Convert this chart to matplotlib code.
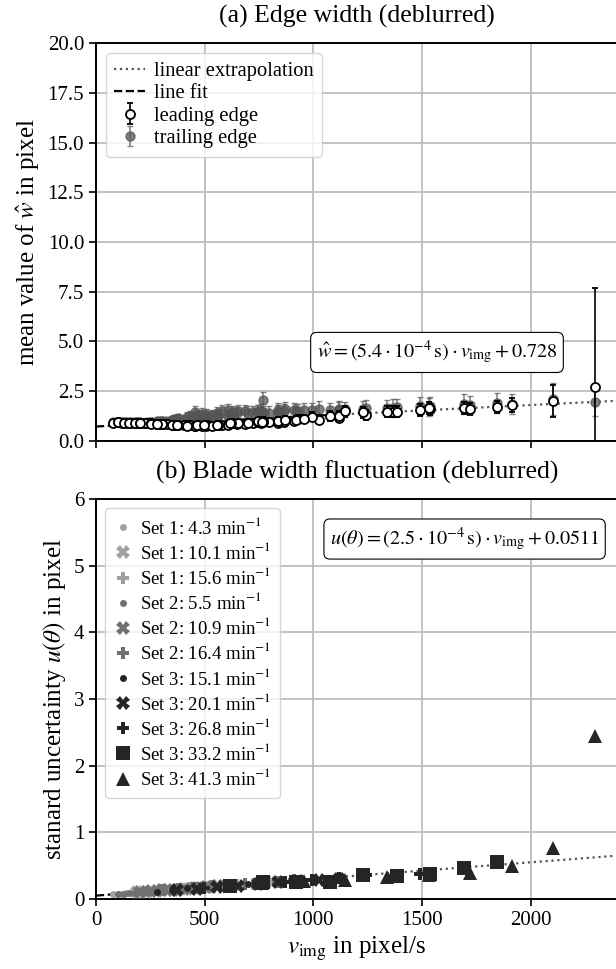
import numpy as np
import matplotlib.pyplot as plt

plt.rcParams['font.family'] = ['Liberation Serif', 'DejaVu Serif']
plt.rcParams['mathtext.fontset'] = 'stix'
plt.rcParams['font.size'] = 15

# -- velocities v_img (pixel/s) for each set / rotation speed
v_s1_43 = [79.6, 99.5, 119.5, 139.4, 159.3, 179.3, 199.2, 219.1, 239.1]
v_s1_101 = [187.0, 233.8, 280.6, 327.4, 374.2, 421.1, 467.9, 514.7, 561.6]
v_s1_156 = [288.8, 361.1, 433.4, 505.8, 578.0, 650.4, 722.7, 795.0, 867.4]
v_s2_55 = [101.8, 127.3, 152.8, 178.3, 203.8, 229.3, 254.8, 280.3, 305.8]
v_s2_109 = [201.8, 252.3, 302.8, 353.4, 403.8, 454.4, 505.0, 555.5, 606.0]
v_s2_164 = [303.6, 379.7, 455.6, 531.7, 607.6, 683.7, 759.8, 835.7, 911.8]
v_s3_151 = [279.5, 349.6, 419.5, 489.5, 559.5, 629.5, 699.6, 769.5, 839.6]
v_s3_201 = [372.1, 465.3, 558.4, 651.6, 744.7, 838.0, 931.2, 1024.3, 1117.6]
v_s3_268 = [496.1, 620.4, 744.5, 868.9, 992.9, 1117.3, 1241.6, 1365.7, 1490.1]
v_s3_332 = [614.5, 768.6, 922.3, 1076.3, 1230.1, 1384.1, 1538.2, 1691.9, 1845.9]
v_s3_413 = [764.5, 956.1, 1147.3, 1339.0, 1530.2, 1721.8, 1913.4, 2104.6, 2296.3]

# -- standard uncertainty u(theta) in pixel
u_s1_43 = [0.07, 0.08, 0.08, 0.09, 0.09, 0.10, 0.10, 0.11, 0.11]
u_s1_101 = [0.10, 0.11, 0.12, 0.13, 0.14, 0.15, 0.17, 0.18, 0.19]
u_s1_156 = [0.12, 0.14, 0.16, 0.18, 0.19, 0.21, 0.23, 0.25, 0.26]
u_s2_55 = [0.07, 0.08, 0.09, 0.09, 0.10, 0.11, 0.11, 0.12, 0.13]
u_s2_109 = [0.10, 0.12, 0.13, 0.14, 0.15, 0.16, 0.18, 0.19, 0.20]
u_s2_164 = [0.13, 0.15, 0.17, 0.19, 0.21, 0.22, 0.24, 0.26, 0.28]
u_s3_151 = [0.10, 0.13, 0.16, 0.18, 0.19, 0.21, 0.23, 0.24, 0.26]
u_s3_201 = [0.13, 0.15, 0.18, 0.20, 0.22, 0.25, 0.27, 0.29, 0.30]
u_s3_268 = [0.17, 0.20, 0.23, 0.26, 0.29, 0.31, 0.36, 0.35, 0.37]
u_s3_332 = [0.20, 0.25, 0.25, 0.26, 0.36, 0.35, 0.38, 0.46, 0.56]
u_s3_413 = [0.24, 0.27, 0.29, 0.33, 0.36, 0.39, 0.49, 0.76, 2.45]

labels_b = ['Set 1: 4.3 min$^{-1}$', 'Set 1: 10.1 min$^{-1}$', 'Set 1: 15.6 min$^{-1}$',
            'Set 2: 5.5 min$^{-1}$', 'Set 2: 10.9 min$^{-1}$', 'Set 2: 16.4 min$^{-1}$',
            'Set 3: 15.1 min$^{-1}$', 'Set 3: 20.1 min$^{-1}$', 'Set 3: 26.8 min$^{-1}$',
            'Set 3: 33.2 min$^{-1}$', 'Set 3: 41.3 min$^{-1}$']

# -- edge width w_hat (same measurements, same order as the v lists above)
lead_w = [0.92, 0.93, 0.91, 0.92, 0.90, 0.91, 0.90, 0.89, 0.90,
          0.90, 0.88, 0.85, 0.83, 0.80, 0.78, 0.80, 0.79, 0.82,
          0.85, 0.80, 0.78, 0.75, 0.80, 0.87, 0.90, 0.93, 0.97,
          0.93, 0.92, 0.91, 0.90, 0.91, 0.89, 0.88, 0.87, 0.86,
          0.89, 0.87, 0.84, 0.82, 0.79, 0.77, 0.78, 0.80, 0.83,
          0.84, 0.79, 0.76, 0.76, 0.82, 0.86, 0.89, 0.92, 1.00,
          0.86, 0.80, 0.77, 0.76, 0.80, 0.88, 0.92, 0.95, 0.98,
          0.82, 0.78, 0.80, 0.88, 0.95, 1.00, 1.10, 1.08, 1.17,
          0.80, 0.90, 0.98, 1.05, 1.22, 1.25, 1.31, 1.47, 1.56,
          0.88, 1.00, 1.05, 1.25, 1.44, 1.47, 1.59, 1.67, 1.73,
          0.95, 1.10, 1.49, 1.47, 1.64, 1.61, 1.81, 2.01, 2.70]
lead_err = [0.08, 0.08, 0.08, 0.08, 0.08, 0.08, 0.08, 0.08, 0.08,
            0.10, 0.10, 0.12, 0.12, 0.12, 0.14, 0.14, 0.15, 0.15,
            0.12, 0.12, 0.14, 0.15, 0.15, 0.16, 0.16, 0.18, 0.18,
            0.08, 0.08, 0.08, 0.08, 0.08, 0.08, 0.10, 0.10, 0.10,
            0.10, 0.10, 0.12, 0.12, 0.12, 0.14, 0.14, 0.15, 0.15,
            0.12, 0.12, 0.14, 0.15, 0.15, 0.16, 0.16, 0.18, 0.18,
            0.12, 0.14, 0.15, 0.16, 0.16, 0.18, 0.18, 0.20, 0.20,
            0.14, 0.15, 0.16, 0.18, 0.20, 0.20, 0.22, 0.22, 0.24,
            0.15, 0.18, 0.20, 0.22, 0.24, 0.25, 0.26, 0.28, 0.28,
            0.18, 0.20, 0.22, 0.24, 0.26, 0.28, 0.28, 0.30, 0.30,
            0.20, 0.22, 0.26, 0.28, 0.30, 0.30, 0.35, 0.81, 5.00]
trail_w = [0.95, 0.94, 0.94, 0.93, 0.93, 0.92, 0.93, 0.92, 0.92,
           0.94, 0.93, 0.95, 1.00, 1.05, 1.10, 1.15, 1.20, 1.25,
           1.00, 1.10, 1.25, 1.35, 1.50, 1.40, 1.45, 1.40, 1.50,
           0.95, 0.94, 0.93, 0.93, 0.92, 0.92, 0.93, 0.95, 0.97,
           0.94, 0.95, 0.98, 1.02, 1.08, 1.12, 1.18, 1.22, 1.28,
           1.02, 1.15, 1.44, 1.30, 1.56, 1.49, 1.50, 1.45, 1.55,
           0.98, 1.05, 1.20, 1.35, 1.30, 1.45, 1.40, 2.06, 1.45,
           1.10, 1.30, 1.40, 1.50, 1.45, 1.55, 1.50, 1.60, 1.55,
           1.20, 1.35, 1.50, 1.60, 1.55, 1.62, 1.65, 1.65, 1.75,
           1.30, 1.45, 1.50, 1.55, 1.60, 1.70, 1.75, 1.85, 1.90,
           1.35, 1.55, 1.60, 1.65, 1.70, 1.80, 1.85, 2.10, 1.98]
trail_err = [0.08, 0.08, 0.08, 0.08, 0.08, 0.10, 0.10, 0.10, 0.10,
             0.10, 0.12, 0.15, 0.18, 0.20, 0.22, 0.25, 0.25, 0.28,
             0.15, 0.20, 0.25, 0.28, 0.30, 0.30, 0.32, 0.35, 0.35,
             0.08, 0.08, 0.08, 0.10, 0.10, 0.10, 0.12, 0.12, 0.15,
             0.12, 0.14, 0.18, 0.20, 0.22, 0.24, 0.26, 0.28, 0.28,
             0.18, 0.22, 0.30, 0.28, 0.30, 0.32, 0.35, 0.35, 0.35,
             0.15, 0.20, 0.25, 0.30, 0.30, 0.32, 0.35, 0.40, 0.35,
             0.20, 0.25, 0.30, 0.32, 0.35, 0.35, 0.38, 0.40, 0.40,
             0.22, 0.28, 0.32, 0.35, 0.38, 0.40, 0.42, 0.45, 0.45,
             0.25, 0.30, 0.35, 0.38, 0.40, 0.42, 0.45, 0.50, 0.50,
             0.28, 0.35, 0.38, 0.40, 0.45, 0.45, 0.50, 0.80, 0.70]

# fit parameters
slope_a, icpt_a = 5.4e-4, 0.728
slope_b, icpt_b = 2.5e-4, 0.0511
fit_end = 1150
x_max = 2400

sets_v = [v_s1_43, v_s1_101, v_s1_156, v_s2_55, v_s2_109, v_s2_164,
          v_s3_151, v_s3_201, v_s3_268, v_s3_332, v_s3_413]
sets_u = [u_s1_43, u_s1_101, u_s1_156, u_s2_55, u_s2_109, u_s2_164,
          u_s3_151, u_s3_201, u_s3_268, u_s3_332, u_s3_413]
marks = ['.', 'X', 'P', '.', 'X', 'P', '.', 'X', 'P', 's', '^']
sizes = [10, 10, 9, 10, 10, 9, 10, 10, 9, 10, 10]
cols = ['#a0a0a0'] * 3 + ['#707070'] * 3 + ['#252525'] * 5

edge_v = np.concatenate([v_s1_43, v_s1_101, v_s1_156, v_s2_55, v_s2_109, v_s2_164,
                         v_s3_151, v_s3_201, v_s3_268, v_s3_332, v_s3_413])

fig = plt.figure(figsize=(6.16, 9.69), dpi=100)
ax1 = fig.add_axes([0.1558, 0.5449, 0.8468, 0.4107])
ax2 = fig.add_axes([0.1558, 0.0722, 0.8468, 0.4128])

grid_kw = dict(color='#bdbdbd', linewidth=1.3)

# (a) Edge width
xa = np.array([fit_end, x_max])
xf = np.array([0, fit_end])
ax1.plot(xa, slope_a * xa + icpt_a, ':', color='#555555', lw=1.6, label='linear extrapolation', zorder=2)
ax1.plot(xf, slope_a * xf + icpt_a, '--', color='black', lw=1.6, label='line fit', zorder=2)
ax1.errorbar(edge_v, lead_w, yerr=lead_err, fmt='o', mfc='white', mec='black', mew=1.3,
             ms=6.5, ecolor='black', elinewidth=1.2, capsize=2.5, label='leading edge', zorder=4)
ax1.errorbar(edge_v, trail_w, yerr=trail_err, fmt='o', color='#555555', ms=6.5, alpha=0.75,
             ecolor='#606060', elinewidth=1.2, capsize=2.5, label='trailing edge', zorder=3)
ax1.set_xlim(0, x_max)
ax1.set_ylim(0, 20)
ax1.set_yticks(np.arange(0, 20.1, 2.5))
ax1.set_yticklabels(['%.1f' % t for t in np.arange(0, 20.1, 2.5)])
ax1.set_xticks([0, 500, 1000, 1500, 2000])
ax1.tick_params(labelbottom=False)
ax1.grid(True, **grid_kw)
ax1.set_axisbelow(True)
ax1.set_ylabel(r'mean value of $\hat{w}$ in pixel', fontsize=18)
ax1.set_title('(a) Edge width (deblurred)', fontsize=18.5, pad=15)
ax1.legend(loc='upper left', fontsize=14.8, handlelength=1.5, borderpad=0.4, labelspacing=0.15,
           handletextpad=0.4)
ax1.text(1569, 4.45, r'$\hat{w} = (5.4\cdot 10^{-4}\,\mathrm{s})\cdot v_\mathrm{img} + 0.728$',
         ha='center', va='center', fontsize=14.5,
         bbox=dict(boxstyle='round,pad=0.3', fc='white', ec='black', lw=0.8))

# (b) Blade width fluctuation
ax2.plot(xa, slope_b * xa + icpt_b, ':', color='#555555', lw=1.6, zorder=2)
ax2.plot(xf, slope_b * xf + icpt_b, '--', color='black', lw=1.6, zorder=2)
for v, u, m, s, c, lab in zip(sets_v, sets_u, marks, sizes, cols, labels_b):
    ax2.plot(v, u, linestyle='none', marker=m, ms=s, color=c, mew=0, label=lab, zorder=3)
ax2.set_xlim(0, x_max)
ax2.set_ylim(0, 6)
ax2.set_xticks([0, 500, 1000, 1500, 2000])
ax2.grid(True, **grid_kw)
ax2.set_axisbelow(True)
ax2.set_ylabel(r'stanard uncertainty $u(\theta)$ in pixel', fontsize=18)
ax2.set_xlabel(r'$v_\mathrm{img}$ in pixel/s', fontsize=18)
ax2.set_title('(b) Blade width fluctuation (deblurred)', fontsize=18.5, pad=15)
ax2.legend(loc='upper left', fontsize=13.5, handlelength=1.0, borderpad=0.45, labelspacing=0.22,
           handletextpad=0.4)
ax2.text(1696, 5.4, r'$u(\theta) = (2.5\cdot 10^{-4}\,\mathrm{s})\cdot v_\mathrm{img} + 0.0511$',
         ha='center', va='center', fontsize=14.5,
         bbox=dict(boxstyle='round,pad=0.3', fc='white', ec='black', lw=0.8))

for ax in (ax1, ax2):
    for sp in ax.spines.values():
        sp.set_linewidth(1.4)
    ax.tick_params(width=1.2, length=5, labelsize=15)

fig.savefig('out.png', dpi=100)
